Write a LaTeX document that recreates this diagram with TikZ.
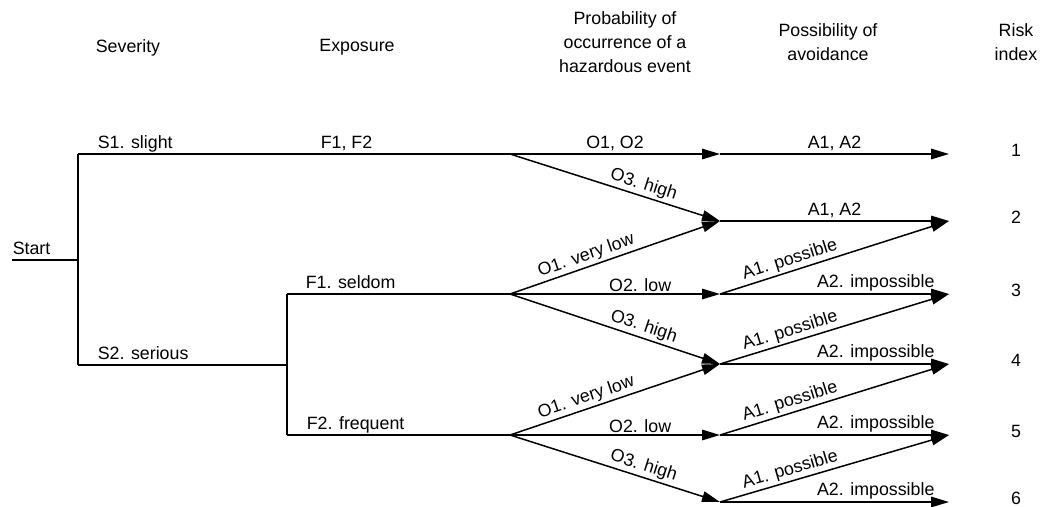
\documentclass[tikz,border=0pt]{standalone}
\usepackage{fontspec}
\setmainfont{Liberation Sans}
\usetikzlibrary{arrows.meta}
\begin{document}
\begin{tikzpicture}[x=1pt,y=-1pt,line width=1.5pt,
  lbl/.style={font=\fontsize{17.8}{24}\selectfont,inner sep=2pt},
  hdr/.style={font=\fontsize{17.8}{24}\selectfont,align=center,inner sep=0pt,anchor=north},
  arr/.style={-{Triangle[length=18pt,width=10.5pt]}}]
\useasboundingbox (0,0) rectangle (1040,506);
% headers
\node[hdr] (hsev) at (128,39) {Severity};
\node[hdr] (hexp) at (357,39) {Exposure};
\node[hdr] (hprob) at (625,11) {Probability of\\occurrence of a\\hazardous event};
\node[hdr] (havo) at (828,23) {Possibility of\\avoidance};
\node[hdr] (hrisk) at (1016,23) {Risk\\index};
% junctions
\coordinate (st) at (12,260);
\coordinate (sj) at (78,260);
\coordinate (s1) at (78,154);
\coordinate (s2) at (78,365);
\coordinate (b0) at (510,154);
\coordinate (fj) at (287,365);
\coordinate (f1a) at (287,294);
\coordinate (f2a) at (287,435);
\coordinate (b1) at (510,294);
\coordinate (b2) at (510,435);
\foreach \i/\y in {1/154,2/221,3/294,4/364,5/435,6/502}{
  \coordinate (m\i) at (720,\y);
  \coordinate (e\i) at (949,\y);
  \node[lbl,anchor=base,inner sep=0pt] (r\i) at (1016,\y+2) {\i};
}
% tree
\draw (st) -- (sj);
\node[lbl,anchor=base west,inner sep=0pt] (lstart) at (12,254) {Start};
\draw (s1) -- (s2);
\draw (s1) -- (b0);
\node[lbl,anchor=base west,inner sep=0pt] (ls1) at (97,148) {S1. slight};
\node[lbl,anchor=base west,inner sep=0pt] (lf12) at (320,148) {F1, F2};
\draw (s2) -- (fj);
\node[lbl,anchor=base west,inner sep=0pt] (ls2) at (97,359) {S2. serious};
\draw (f1a) -- (f2a);
\draw (f1a) -- (b1);
\node[lbl,anchor=base west,inner sep=0pt] (lf1) at (305,288) {F1. seldom};
\draw (f2a) -- (b2);
\node[lbl,anchor=base west,inner sep=0pt] (lf2) at (306,429) {F2. frequent};
% probability branches
\draw[arr] (b0) -- node[lbl,above] {O1, O2} (m1);
\draw[arr] (b0) -- node[lbl,sloped,above,pos=0.62] {O3. high} (m2);
\draw[arr] (b1) -- node[lbl,sloped,above,pos=0.38] {O1. very low} (m2);
\draw[arr] (b1) -- node[lbl,above,pos=0.62] {O2. low} (m3);
\draw[arr] (b1) -- node[lbl,sloped,above,pos=0.62] {O3. high} (m4);
\draw[arr] (b2) -- node[lbl,sloped,above,pos=0.38] {O1. very low} (m4);
\draw[arr] (b2) -- node[lbl,above,pos=0.62] {O2. low} (m5);
\draw[arr] (b2) -- node[lbl,sloped,above,pos=0.62] {O3. high} (m6);
% avoidance branches
\draw[arr] (m1) -- node[lbl,above] {A1, A2} (e1);
\draw[arr] (m2) -- node[lbl,above] {A1, A2} (e2);
\foreach \a/\b in {3/2,4/3,5/4,6/5}{
  \draw[arr] (m\a) -- node[lbl,sloped,above,pos=0.32] {A1. possible} (e\b);
  \draw[arr] (m\a) -- node[lbl,above,pos=0.68] {A2. impossible} (e\a);
}
\end{tikzpicture}
\end{document}
